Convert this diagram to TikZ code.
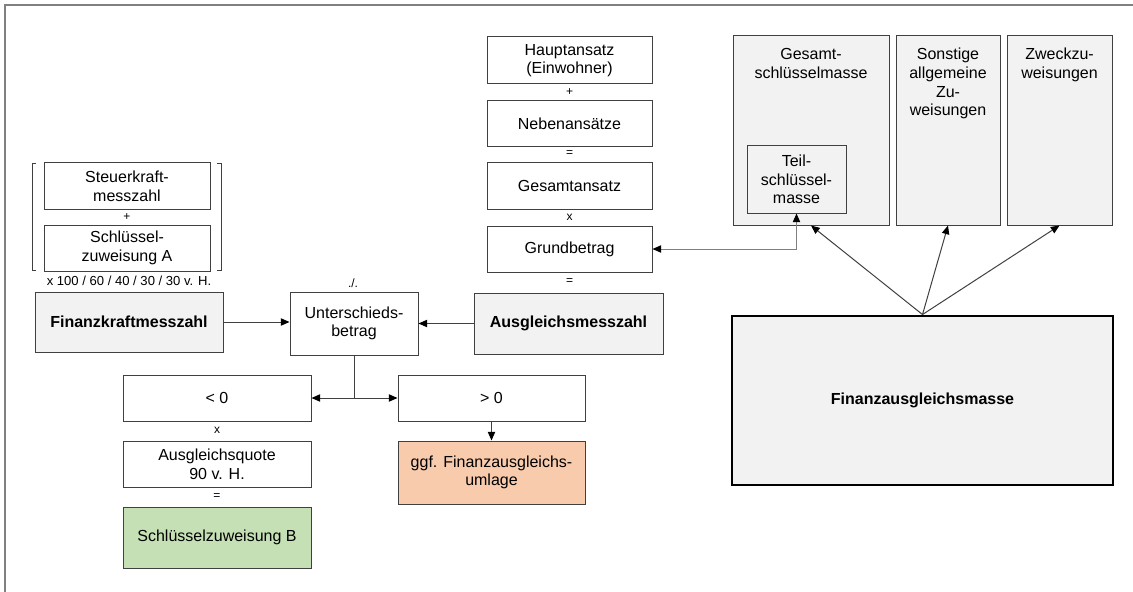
\documentclass[tikz,border=0pt]{standalone}
\usepackage{fontspec}
\setmainfont{Liberation Sans}
\usetikzlibrary{arrows.meta}

\definecolor{edge}{HTML}{404040}
\definecolor{frame}{HTML}{808080}
\definecolor{boxgrey}{HTML}{F2F2F2}
\definecolor{boxgreen}{HTML}{C5E0B4}
\definecolor{boxorange}{HTML}{F8CBAD}

\tikzset{
  box/.style={draw=edge, line width=0.75pt, inner sep=0pt, align=center,
    font=\fontsize{12}{14}\selectfont},
  sz/.style 2 args={minimum width=#1*0.75pt, minimum height=#2*0.75pt},
  op/.style={inner sep=0pt, font=\fontsize{9}{10}\selectfont},
  head/.style={below=6pt, align=center, font=\fontsize{12}{14}\selectfont},
  tip/.tip={Triangle[length=6.5pt,width=5.5pt,color=black]},
  link/.style={draw=edge, line width=0.75pt, -tip}
}

\begin{document}
\begin{tikzpicture}[x=0.75pt,y=-0.75pt]
  \useasboundingbox (0,0) rectangle (1133,592);
  \draw[frame, line width=1.5pt] (5,592) -- (5,5) -- (1133,5);

  % Finanzkraft
  \node[box, sz={166}{46}] (skm) at (127,186) {Steuerkraft-\\messzahl};
  \node[op] (plus1) at (127,217) {+};
  \node[box, sz={166}{46}] (sza) at (127,248) {Schlüssel-\\zuweisung A};
  \draw[edge] (36,163) -- (32,163) -- (32,270) -- (36,270);
  \draw[edge] (217,163) -- (221,163) -- (221,270) -- (217,270);
  \node[inner sep=0pt, font=\fontsize{9.8}{11}\selectfont] (pct) at (129,281) {x 100 / 60 / 40 / 30 / 30 v. H.};
  \node[box, fill=boxgrey, sz={188}{60}, font=\fontsize{12}{14}\bfseries] (fkm) at (129,322) {Finanzkraftmesszahl};

  % Bedarf
  \node[box, sz={165}{47}] (haupt) at (569.5,60.5) {Hauptansatz\\(Einwohner)};
  \node[op] (plus2) at (569.5,92) {+};
  \node[box, sz={165}{46}] (neben) at (569.5,124) {Nebenansätze};
  \node[op] (eq1) at (569.5,154) {=};
  \node[box, sz={165}{46}] (gesamt) at (569.5,186) {Gesamtansatz};
  \node[op] (mul1) at (569.5,217) {x};
  \node[box, sz={165}{46}] (gb) at (569.5,249) {Grundbetrag};
  \node[op] (eq2) at (569.5,282) {=};
  \node[box, fill=boxgrey, sz={189}{61}, font=\fontsize{12}{14}\bfseries] (amz) at (568.5,323.5) {Ausgleichsmesszahl};

  % Unterschied
  \node[op] (minus) at (353,283) {./.};
  \node[box, sz={128}{63}] (ub) at (354,323.5) {Unterschieds-\\betrag};
  \node[box, sz={188}{46}] (lt) at (217,398) {< 0};
  \node[box, sz={187}{46}] (gt) at (491.5,398) {> 0};
  \node[op] (mul2) at (217,430) {x};
  \node[box, sz={188}{46}] (quote) at (217,464) {Ausgleichsquote\\90 v. H.};
  \node[op] (eq3) at (217,497) {=};
  \node[box, fill=boxgreen, sz={188}{61}] (szb) at (217,537.5) {Schlüsselzuweisung B};
  \node[box, fill=boxorange, sz={187}{63}] (fau) at (491.5,472.5) {ggf. Finanzausgleichs-\\umlage};

  % Masse
  \node[box, fill=boxgrey, sz={156}{189}] (gsm) at (811,130.5) {};
  \node[head] at (gsm.north) {Gesamt-\\schlüsselmasse};
  \node[box, fill=boxgrey, sz={99}{67}] (tsm) at (796.5,179.5) {Teil-\\schlüssel-\\masse};
  \node[box, fill=boxgrey, sz={104}{189}] (saz) at (948,130.5) {};
  \node[head] at (saz.north) {Sonstige\\allgemeine\\Zu-\\weisungen};
  \node[box, fill=boxgrey, sz={105}{189}] (zz) at (1059.5,130.5) {};
  \node[head] at (zz.north) {Zweckzu-\\weisungen};
  \node[box, fill=boxgrey, line width=2.2pt, draw=black, sz={381}{169},
    font=\fontsize{12}{14}\bfseries] (fam) at (922.5,400.5) {Finanzausgleichsmasse};

  \coordinate (split) at (ub.south |- lt.east);
  \begin{scope}[link]
    \draw (fkm.east) -- (fkm.east -| ub.west);
    \draw (amz.west) -- (amz.west -| ub.east);
    \draw[-] (ub.south) -- (split);
    \draw (split) -- (lt.east);
    \draw (split) -- (gt.west);
    \draw (gt.south) -- (fau.north);
    \draw[tip-tip, draw=frame] (gb.east) -- (tsm.south |- gb.east) -- (tsm.south);
    \draw (fam.north) -- (gsm.south);
    \draw (fam.north) -- (saz.south);
    \draw (fam.north) -- (zz.south);
  \end{scope}
\end{tikzpicture}
\end{document}
